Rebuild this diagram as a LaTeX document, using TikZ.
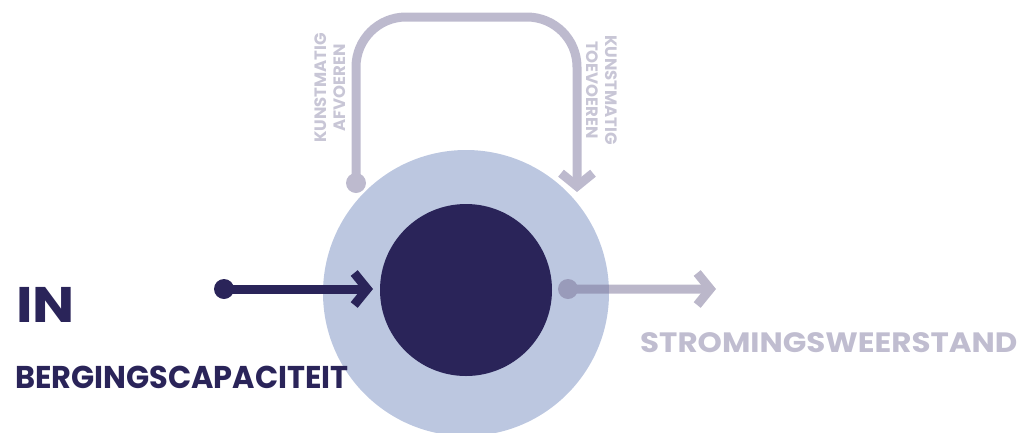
\documentclass[tikz,border=0pt]{standalone}
\usepackage{fontspec}
\setmainfont{Poppins}[UprightFont=* Bold]
\usetikzlibrary{arrows.meta}
\definecolor{navy}{HTML}{2A2459}
\definecolor{ringblue}{HTML}{BCC7E0}
\definecolor{loopgrey}{HTML}{BDBACE}
\definecolor{flowgrey}{HTML}{787096}
\definecolor{labelgrey}{HTML}{C0BDD0}
\definecolor{smallgrey}{HTML}{C8C6D6}
\tikzset{
  conn/.style={line width=9pt, -{Straight Barb[length=13pt,width=32pt,line width=9pt]}},
  dotmark/.style={circle, inner sep=0pt, minimum size=20pt},
  biglabel/.style={anchor=base west, inner sep=0pt, text=navy},
  vlabel/.style={inner sep=0pt, align=center, font=\fontsize{16.5}{18.5}\selectfont, text=smallgrey},
}
\begin{document}
\begin{tikzpicture}[x=1pt,y=-1pt]
\useasboundingbox (0,0) rectangle (1021,432);
% circles
\fill[ringblue] (466,293) circle (143);
\node[circle, fill=navy, minimum size=172pt, inner sep=0pt] (core) at (466,290) {};
% input arrow
\node[dotmark, fill=navy] (indot) at (224,289) {};
\coordinate (intip) at (373,289);
\draw[conn, navy] (indot.center) -- (intip);
% output arrow
\begin{scope}[opacity=0.5, transparency group]
\node[dotmark, fill=flowgrey] (outdot) at (568,289) {};
\coordinate (outtip) at (716,289);
\draw[conn, flowgrey] (outdot.center) -- (outtip);
\end{scope}
% loop
\node[dotmark, fill=loopgrey] (loopdot) at (356,183) {};
\coordinate (looptip) at (577,192);
\draw[conn, loopgrey, rounded corners=50pt] (loopdot.center) -- (356,17) -- (577,17) -- (looptip);
% labels
\node[vlabel, rotate=90] (afv) at (330,88) {KUNSTMATIG\\AFVOEREN};
\node[vlabel, rotate=-90] (toe) at (602,90) {KUNSTMATIG\\TOEVOEREN};
\node[biglabel, font=\fontsize{50}{50}\selectfont] (in) at (16,322) {\scalebox{1.12}[1]{IN}};
\node[biglabel, font=\fontsize{31.5}{31.5}\selectfont] (berg) at (15,388) {\scalebox{0.965}[1]{BERGINGSCAPACITEIT}};
\node[biglabel, text=labelgrey, font=\fontsize{28}{28}\selectfont] (strom) at (640,352) {\scalebox{1.105}[1]{STROMINGSWEERSTAND}};
\end{tikzpicture}
\end{document}
